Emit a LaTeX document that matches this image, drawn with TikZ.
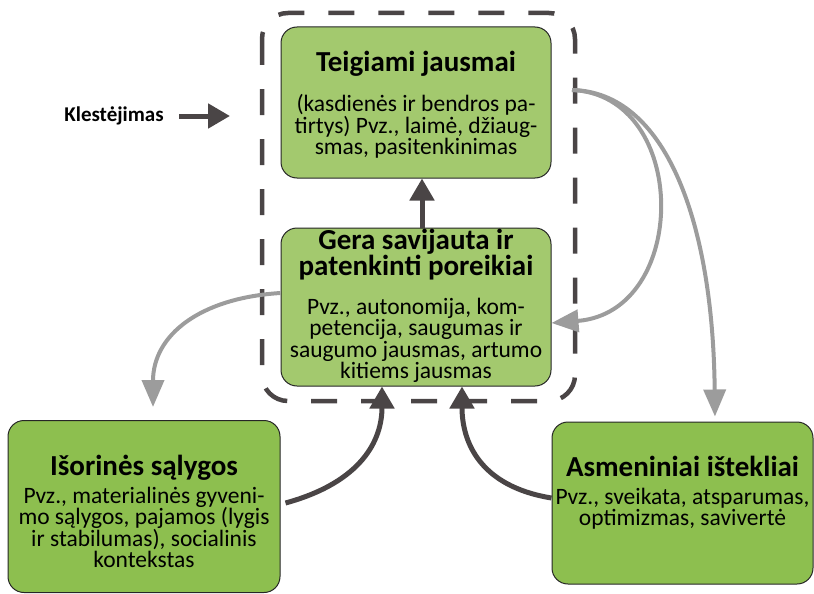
\documentclass[tikz,border=0pt]{standalone}
\usepackage{fontspec}
\setmainfont{Carlito}
\usetikzlibrary{arrows.meta}

\definecolor{boxlight}{HTML}{A3C96E}
\definecolor{boxdark}{HTML}{8DBF4F}
\definecolor{arrowdark}{HTML}{4A4546}
\definecolor{arrowgray}{HTML}{9C9C9C}

\newcommand{\boxtitle}{\fontsize{29}{26}\selectfont\bfseries}
\newcommand{\boxhead}[1]{{\boxtitle\rule{0pt}{25pt}#1\par}}
\newcommand{\boxbody}[3]{\parbox[c][#1][t]{#2}{\centering #3}}

\tikzset{
  feelbox/.style={draw=black!85, line width=1pt, rounded corners=16pt, fill=boxlight,
    inner sep=0pt, font=\fontsize{23.5}{21}\selectfont},
  resbox/.style={feelbox, fill=boxdark},
  darkarrow/.style={arrowdark, line width=5pt, -{Triangle[length=22pt,width=24pt]}},
  grayarrow/.style={arrowgray, line width=4pt, -{Triangle[length=27pt,width=22pt]}},
  dashbox/.style={arrowdark, line width=4.5pt, rounded corners=26pt, dash pattern=on 26pt off 24pt},
}

\begin{document}
\setlength{\lineskiplimit}{-30pt}
\begin{tikzpicture}[x=1pt,y=1pt,yscale=-1,xscale=1]
\useasboundingbox (0,0) rectangle (814,594);

% frame round the two upper boxes
\draw[dashbox] (262,13) rectangle (575,401);

% boxes
\node[feelbox, minimum width=270pt, minimum height=151pt] (joy) at (416,102.5)
  {\boxbody{151pt}{262pt}{\vspace*{19pt}\boxhead{Teigiami jausmai}\vspace{17pt}
   {\fontsize{23.5}{20}\selectfont
   (kasdienės ir bendros pa-\\tirtys) Pvz., laimė, džiaug-\\smas, pasitenkinimas\par}}};
\node[feelbox, minimum width=270pt, minimum height=158pt] (wellbeing) at (416,307)
  {\boxbody{158pt}{262pt}{\vspace*{-4pt}\boxhead{Gera savijauta ir\\patenkinti poreikiai}\vspace{17.5pt}
   {\fontsize{23.5}{21.5}\selectfont
   Pvz., autonomija, kom-\\petencija, saugumas ir\\saugumo jausmas, artumo\\kitiems jausmas\par}}};
\node[resbox, minimum width=272pt, minimum height=172pt] (salygos) at (144,506.5)
  {\boxbody{172pt}{264pt}{\vspace*{30pt}\boxhead{Išorinės sąlygos}\vspace{6pt}
   {\fontsize{23.5}{21.5}\selectfont
   Pvz., materialinės gyveni-\\mo sąlygos, pajamos (lygis\\ir stabilumas), socialinis\\kontekstas\par}}};
\node[resbox, minimum width=261pt, minimum height=162pt] (istekliai) at (682.5,503)
  {\boxbody{162pt}{261pt}{\vspace*{29pt}\boxhead{Asmeniniai ištekliai}\vspace{7pt}
   \mbox{Pvz., sveikata, atsparumas,}\\optimizmas, savivertė\par}};

% flourishing
\node[font=\fontsize{21}{24}\selectfont\bfseries] (klest) at (114,116) {Klestėjimas};
\coordinate (klestend) at (230,116);
\draw[darkarrow, shorten <=12pt] (klest.east) -- (klestend);

% arrows
\draw[darkarrow] ([xshift=6pt]wellbeing.north) -- ([xshift=6pt]joy.south);
\coordinate (split) at (572,90);
\draw[grayarrow] (split) .. controls (690,95) and (690,312) .. (wellbeing.east |- 0,323);
\draw[grayarrow, shorten >=5pt] (split) .. controls (665,92) and (713,220) .. (istekliai.north -| 715,0);
\draw[grayarrow, shorten >=13pt] (wellbeing.west |- 0,293) .. controls (200,298) and (153,335) .. (salygos.north -| 153,0);
\draw[darkarrow] ([xshift=5pt]salygos.east |- 0,503) .. controls (362,482) and (382,440) .. (wellbeing.south -| 382,0);
\draw[darkarrow] (istekliai.west |- 0,498) .. controls (478,486) and (462,440) .. (wellbeing.south -| 462,0);

\end{tikzpicture}
\end{document}
